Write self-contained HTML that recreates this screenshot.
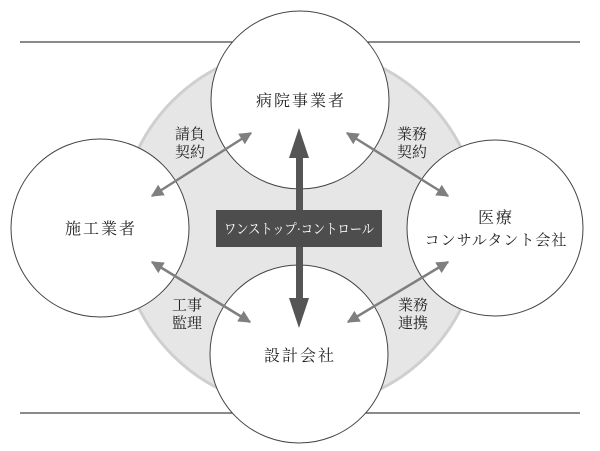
<!DOCTYPE html>
<html><head><meta charset="utf-8"><style>
html,body{margin:0;padding:0;background:#fff}
svg{display:block}
text{font-family:"Liberation Serif","Noto Serif CJK SC","Noto Sans CJK JP",serif;fill:#222}
</style></head><body>
<svg width="600" height="451" viewBox="0 0 600 451" xmlns="http://www.w3.org/2000/svg">
<defs>
<marker id="ah" viewBox="0 0 10 10" refX="9" refY="5" markerWidth="5" markerHeight="5" orient="auto-start-reverse">
<path d="M0,0 L10,5 L0,10 z" fill="#7f7f7f"/></marker>
</defs>
<line x1="20" y1="42" x2="580" y2="42" stroke="#444" stroke-width="1.2"/>
<line x1="20" y1="413" x2="580" y2="413" stroke="#444" stroke-width="1.2"/>
<circle cx="300" cy="228" r="180" fill="#e6e6e6" stroke="#cfcfcf" stroke-width="3"/>
<g fill="#fff" stroke="#444" stroke-width="1">
<circle cx="300" cy="100" r="89"/>
<circle cx="100" cy="228" r="89"/>
<circle cx="495" cy="228" r="88"/>
<circle cx="299" cy="354" r="89"/>
</g>
<g stroke="#7f7f7f" stroke-width="2.5" marker-start="url(#ah)" marker-end="url(#ah)">
<line x1="152" y1="196" x2="251" y2="133"/>
<line x1="347" y1="133" x2="448" y2="196"/>
<line x1="152" y1="262" x2="250" y2="322"/>
<line x1="348" y1="322" x2="448" y2="262"/>
</g>
<rect x="296" y="155" width="7" height="146" fill="#555"/>
<path d="M299,128 L309,158 L289,158 z" fill="#555"/>
<path d="M299,328 L309,298 L289,298 z" fill="#555"/>
<rect x="216" y="210" width="166" height="37" fill="#4d4d4d"/>
<text x="224" y="234" font-size="14" textLength="150" lengthAdjust="spacingAndGlyphs" style="fill:#fff">ワンストップ·コントロール</text>
<g font-size="16" text-anchor="middle" letter-spacing="2">
<text x="301" y="106">病院事業者</text>
<text x="101" y="234">施工業者</text>
<text x="496" y="223">医療</text>
<text x="496" y="245" font-size="15" letter-spacing="1">コンサルタント会社</text>
<text x="300" y="361">設計会社</text>
</g>
<g font-size="15" text-anchor="middle">
<text x="190" y="139">請負</text><text x="190" y="157">契約</text>
<text x="412" y="139">業務</text><text x="412" y="157">契約</text>
<text x="187" y="310">工事</text><text x="187" y="328">監理</text>
<text x="413" y="310">業務</text><text x="413" y="328">連携</text>
</g>
</svg>
</body></html>
